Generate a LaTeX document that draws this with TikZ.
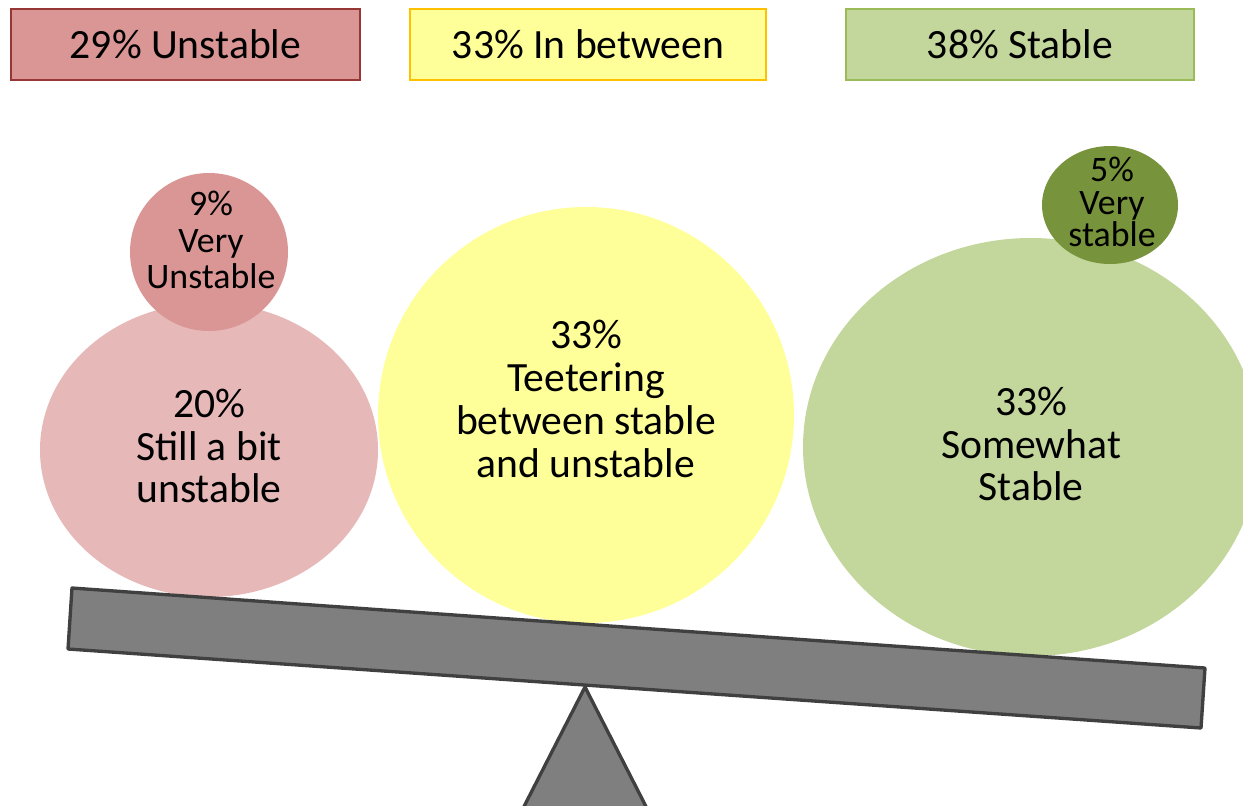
\documentclass[tikz,border=0pt]{standalone}
\usepackage{fontspec}
\setmainfont{Carlito}
\definecolor{redfill}{RGB}{217,150,148}
\definecolor{redline}{RGB}{150,55,53}
\definecolor{pinkfill}{RGB}{230,185,184}
\definecolor{yelfill}{RGB}{255,255,153}
\definecolor{yelline}{RGB}{255,192,0}
\definecolor{grnfill}{RGB}{195,214,155}
\definecolor{grnline}{RGB}{155,187,89}
\definecolor{dgrnfill}{RGB}{119,147,60}
\definecolor{boardfill}{RGB}{127,127,127}
\definecolor{boardline}{RGB}{64,64,64}
\tikzset{
  catbox/.style={draw, line width=1.2pt, minimum width=#1, minimum height=71*0.02cm, inner sep=0pt, font=\fontsize{23.7}{24.4}\selectfont},
  bigtxt/.style={align=center, font=\fontsize{23.7}{24.4}\selectfont, inner sep=0pt},
  smalltxt/.style={align=center, font=\fontsize{20.4}{21}\selectfont, inner sep=0pt},
  tinytxt/.style={align=center, font=\fontsize{20.4}{18.7}\selectfont, inner sep=0pt},
  seesaw/.style={fill=boardfill, draw=boardline, line width=1.9pt, line join=round}
}
\begin{document}
\begin{tikzpicture}[x=0.02cm,y=-0.02cm]
\useasboundingbox (0,0) rectangle (1243,805);
\clip (0,0) rectangle (1243,805);
% category boxes
\node[catbox=349*0.02cm, fill=redfill, draw=redline] (unst) at (185.5,44.5) {29\% Unstable};
\node[catbox=356*0.02cm, fill=yelfill, draw=yelline] (betw) at (588,44.5) {33\% In between};
\node[catbox=348*0.02cm, fill=grnfill, draw=grnline] (stab) at (1020,44.5) {38\% Stable};
% bubbles
\fill[pinkfill] (209,450) ellipse [x radius=169, y radius=147];
\node[bigtxt] (still) at (209,446) {20\%\\Still a bit\\unstable};
\fill[redfill] (209,252) circle [radius=79];
\node[smalltxt] (vunst) at (211,240) {9\%\\Very\\Unstable};
\fill[yelfill] (586,415) circle [radius=208];
\node[bigtxt] (teet) at (586,399) {33\%\\Teetering\\between stable\\and unstable};
\fill[grnfill] (1031,447) ellipse [x radius=228, y radius=209];
\node[bigtxt] (some) at (1031,444) {33\%\\Somewhat\\Stable};
\fill[dgrnfill] (1110,205) ellipse [x radius=68, y radius=59];
\node[tinytxt] (vstab) at (1112,202) {5\%\\Very\\stable};
% seesaw
\coordinate (apex) at (585,687);
\draw[seesaw] (apex) -- (658,830) -- (512,830) -- cycle;
\draw[seesaw] (72,588) -- (1205,668) -- (1201,728) -- (68,649) -- cycle;
\end{tikzpicture}
\end{document}
